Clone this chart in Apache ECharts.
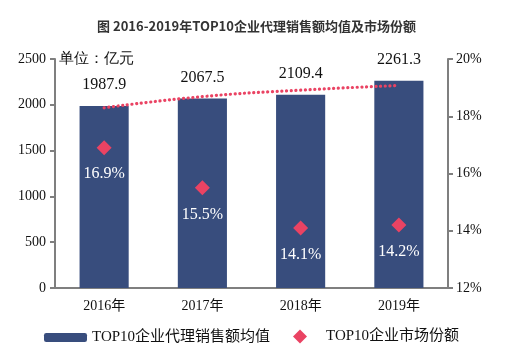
<!DOCTYPE html>
<html><head><meta charset="utf-8">
<script src="https://cdn.jsdelivr.net/npm/echarts@6/dist/echarts.min.js"></script>
<style>html,body{margin:0;padding:0;background:#fff}#c{width:513px;height:356px}</style>
</head><body><div id="c"></div>
<script>
const categories = ['2016年','2017年','2018年','2019年'];
const salesAvg = [1987.9, 2067.5, 2109.4, 2261.3];
const marketShare = [16.9, 15.5, 14.1, 14.2];
const trendValues = [1967, 2089, 2160, 2211];
const leftTicks = {min:0, max:2500, interval:500};
const rightTicks = {min:12, max:20, interval:2};

const SERIF = '"Liberation Serif","Times New Roman","Noto Sans CJK SC",serif';
const chart = echarts.init(document.getElementById('c'));
chart.setOption({
  animation:false,
  title:{text:'图 2016-2019年TOP10企业代理销售额均值及市场份额', left:'center', top:15,
    textStyle:{fontSize:13, fontWeight:'bold', color:'#333', fontFamily:'"Noto Sans CJK SC",sans-serif'}},
  graphic:[{type:'text', left:59, top:51, style:{text:'单位：亿元', fontSize:15, fill:'#111', font:'15px "Noto Sans CJK SC",sans-serif'}}],
  legend:[
    {data:['TOP10企业代理销售额均值'], left:39, top:325, itemWidth:43, itemHeight:9, itemGap:5,
     textStyle:{fontSize:15, color:'#111', fontFamily:SERIF}},
    {data:['TOP10企业市场份额'], left:288, top:324, itemWidth:14, itemHeight:14,
     itemStyle:{opacity:1},
     textStyle:{fontSize:15, color:'#111', fontFamily:SERIF, padding:[0,0,0,14]}}
  ],
  grid:{left:55, right:65, top:59, bottom:68},
  xAxis:{type:'category', data:categories,
    axisLine:{lineStyle:{color:'#7f7f7f', width:2}}, axisTick:{show:false},
    axisLabel:{fontSize:14, color:'#111', fontFamily:SERIF, margin:11}},
  yAxis:[
    {type:'value', min:leftTicks.min, max:leftTicks.max, interval:leftTicks.interval, splitLine:{show:false},
     axisLine:{show:true, lineStyle:{color:'#7f7f7f', width:2}}, axisTick:{show:true, length:5, lineStyle:{color:'#7f7f7f', width:2}},
     axisLabel:{fontSize:14, color:'#111', fontFamily:SERIF, margin:9, formatter:v=>String(v)}},
    {type:'value', min:rightTicks.min, max:rightTicks.max, interval:rightTicks.interval, splitLine:{show:false},
     axisLine:{show:true, lineStyle:{color:'#7f7f7f', width:2}}, axisTick:{show:true, length:5, lineStyle:{color:'#7f7f7f', width:2}},
     axisLabel:{fontSize:14, color:'#111', fontFamily:SERIF, margin:8, formatter:'{value}%'}}
  ],
  series:[
    {name:'TOP10企业代理销售额均值', type:'bar', data:salesAvg, barWidth:'50%', yAxisIndex:0,
     itemStyle:{color:'#384d7d'},
     label:{show:true, position:'top', distance:13, fontSize:16, color:'#111', fontFamily:SERIF,
       formatter:p=>p.value.toFixed(1)}, z:2},
    {name:'trend', type:'line', data:trendValues, yAxisIndex:0, smooth:true, symbol:'none',
     lineStyle:{color:'#ea4363', width:3.2, type:[0.1,4.6], cap:'round'}, z:3, silent:true},
    {name:'TOP10企业市场份额', type:'scatter', data:marketShare, yAxisIndex:1, symbol:'diamond', symbolSize:[15,15],
     itemStyle:{color:'#ea4363', opacity:1},
     label:{show:true, position:'bottom', distance:11, fontSize:16, color:'#fff', fontFamily:SERIF,
       formatter:p=>p.value.toFixed(1)+'%'}, z:4}
  ]
});
</script></body></html>
